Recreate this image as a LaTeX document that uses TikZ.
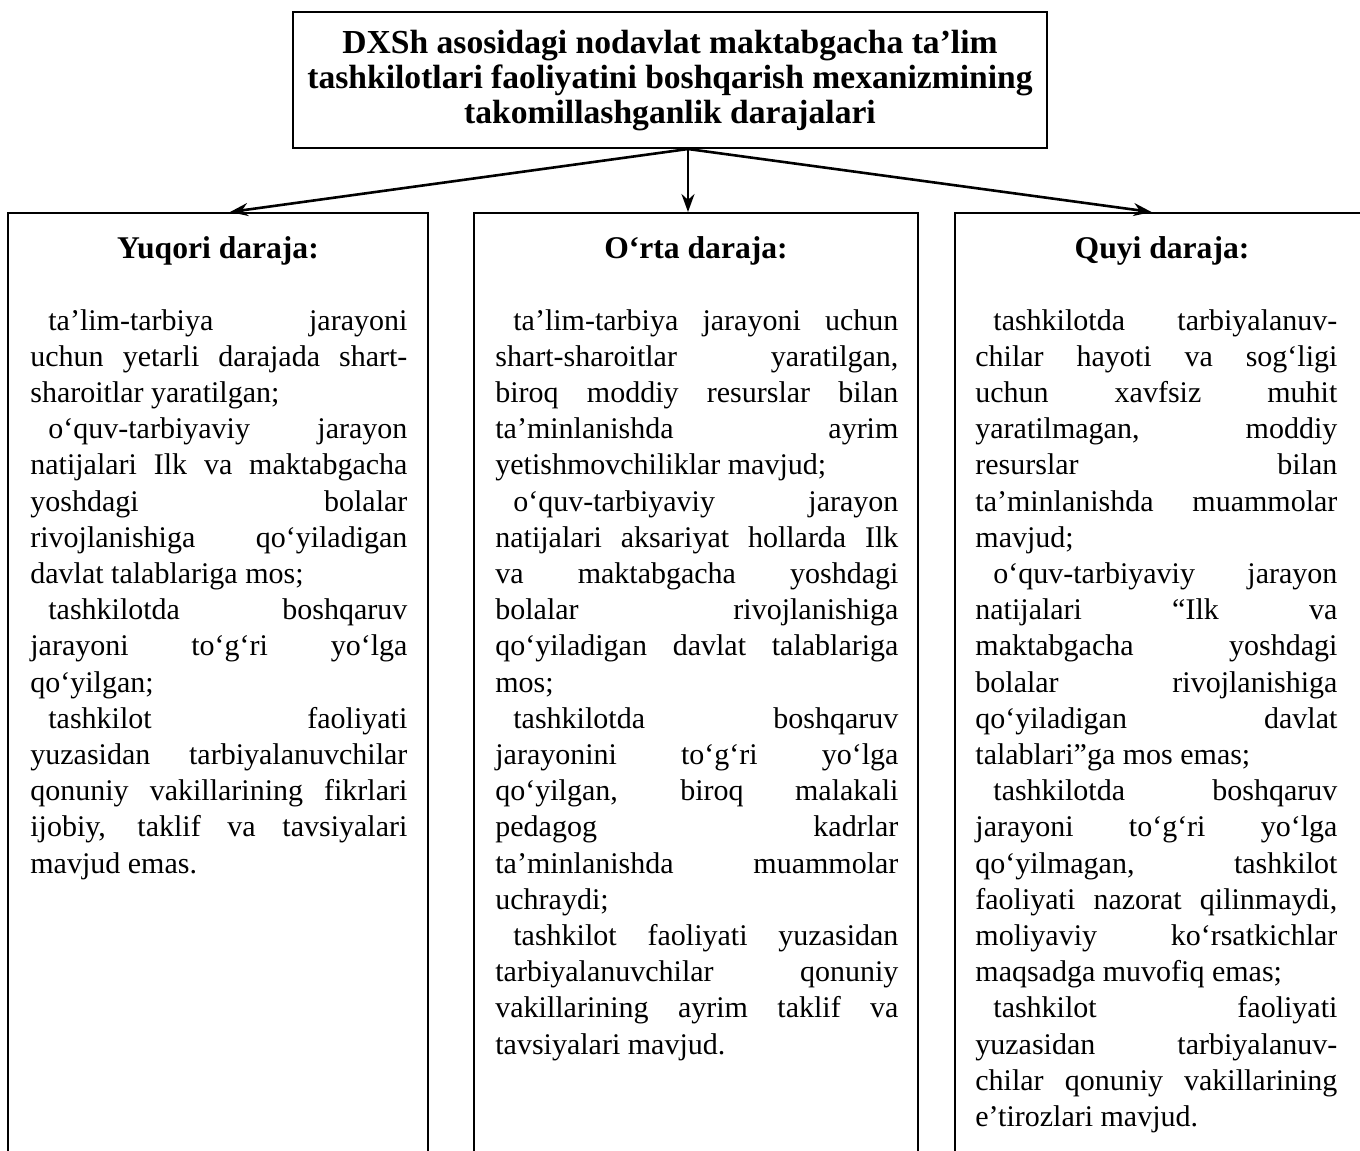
\documentclass[tikz,border=0pt]{standalone}
\usepackage{fontspec}
\setmainfont{Liberation Serif}
\usetikzlibrary{arrows.meta}
\newcommand{\bodyfont}{\fontsize{15pt}{18.1pt}\selectfont}
\newcommand{\bodypar}{\setlength{\parindent}{9pt}\rightskip=0pt\relax
  \parfillskip=0pt plus 1fil\relax\tolerance=10000\hyphenpenalty=10000\relax\indent}
\begin{document}
\begin{tikzpicture}[x=0.5pt,y=-0.5pt,
  box/.style={draw, line width=1pt, inner sep=0pt},
  levelbox/.style={box, minimum height=500pt},
  headtext/.style={font=\fontsize{15.8pt}{18pt}\selectfont\bfseries, anchor=base, inner sep=0pt},
  bodytext/.style={font=\bodyfont, align=justify, anchor=base west, inner sep=0pt},
  link/.style={line width=1.3pt, -{Stealth[length=9pt,width=6.5pt]}}]
\useasboundingbox (0,0) rectangle (1360,1151);
\clip (0,0) rectangle (1360,1151);

\node[box, minimum width=377pt, minimum height=68pt, align=center, text depth=3pt,
      font=\fontsize{16.8pt}{17.5pt}\selectfont\bfseries] (top) at (670,80)
  {DXSh asosidagi nodavlat maktabgacha ta’lim\\
   tashkilotlari faoliyatini boshqarish mexanizmining\\
   takomillashganlik darajalari};

\node[levelbox, minimum width=210pt, anchor=north] (yuqori) at (218,212) {};
\node[levelbox, minimum width=222pt, anchor=north] (orta) at (696,212) {};
\node[levelbox, minimum width=212.5pt, anchor=north] (quyi) at (1167.5,212) {};

\coordinate (fork) at ([xshift=9pt]top.south);
\draw[link] (fork) -- ([xshift=6pt]yuqori.north);
\draw[link] (fork) -- (fork |- orta.north);
\draw[link] (fork) -- ([xshift=-8pt]quyi.north);

\node[headtext] (yuqorihead) at (218,258) {Yuqori daraja:};
\node[headtext] (ortahead) at (696,258) {O‘rta daraja:};
\node[headtext] (quyihead) at (1162,258) {Quyi daraja:};

\node[bodytext, text width=188.5pt] (yuqoritext) at (30,330) {\bodypar
ta’lim-tarbiya jarayoni \linebreak uchun yetarli darajada shart-\linebreak sharoitlar yaratilgan;\par
o‘quv-tarbiyaviy jarayon \linebreak natijalari Ilk va maktabgacha \linebreak yoshdagi bolalar \linebreak rivojlanishiga qo‘yiladigan \linebreak davlat talablariga mos;\par
tashkilotda boshqaruv \linebreak jarayoni to‘g‘ri yo‘lga \linebreak qo‘yilgan;\par
tashkilot faoliyati \linebreak yuzasidan tarbiyalanuvchilar \linebreak qonuniy vakillarining fikrlari \linebreak ijobiy, taklif va tavsiyalari \linebreak mavjud emas.};

\node[bodytext, text width=201.5pt] (ortatext) at (495,330) {\bodypar
ta’lim-tarbiya jarayoni uchun \linebreak shart-sharoitlar yaratilgan, \linebreak biroq moddiy resurslar bilan \linebreak ta’minlanishda ayrim \linebreak yetishmovchiliklar mavjud;\par
o‘quv-tarbiyaviy jarayon \linebreak natijalari aksariyat hollarda Ilk \linebreak va maktabgacha yoshdagi \linebreak bolalar rivojlanishiga \linebreak qo‘yiladigan davlat talablariga \linebreak mos;\par
tashkilotda boshqaruv \linebreak jarayonini to‘g‘ri yo‘lga \linebreak qo‘yilgan, biroq malakali \linebreak pedagog kadrlar \linebreak ta’minlanishda muammolar \linebreak uchraydi;\par
tashkilot faoliyati yuzasidan \linebreak tarbiyalanuvchilar qonuniy \linebreak vakillarining ayrim taklif va \linebreak tavsiyalari mavjud.};

\node[bodytext, text width=181pt] (quyitext) at (975,330) {\bodypar
tashkilotda tarbiyalanuv-\linebreak chilar hayoti va sog‘ligi \linebreak uchun xavfsiz muhit \linebreak yaratilmagan, moddiy \linebreak resurslar bilan \linebreak ta’minlanishda muammolar \linebreak mavjud;\par
o‘quv-tarbiyaviy jarayon \linebreak natijalari “Ilk va \linebreak maktabgacha yoshdagi \linebreak bolalar rivojlanishiga \linebreak qo‘yiladigan davlat \linebreak talablari”ga mos emas;\par
tashkilotda boshqaruv \linebreak jarayoni to‘g‘ri yo‘lga \linebreak qo‘yilmagan, tashkilot \linebreak faoliyati nazorat qilinmaydi, \linebreak moliyaviy ko‘rsatkichlar \linebreak maqsadga muvofiq emas;\par
tashkilot faoliyati \linebreak yuzasidan tarbiyalanuv-\linebreak chilar qonuniy vakillarining \linebreak e’tirozlari mavjud.};
\end{tikzpicture}
\end{document}
